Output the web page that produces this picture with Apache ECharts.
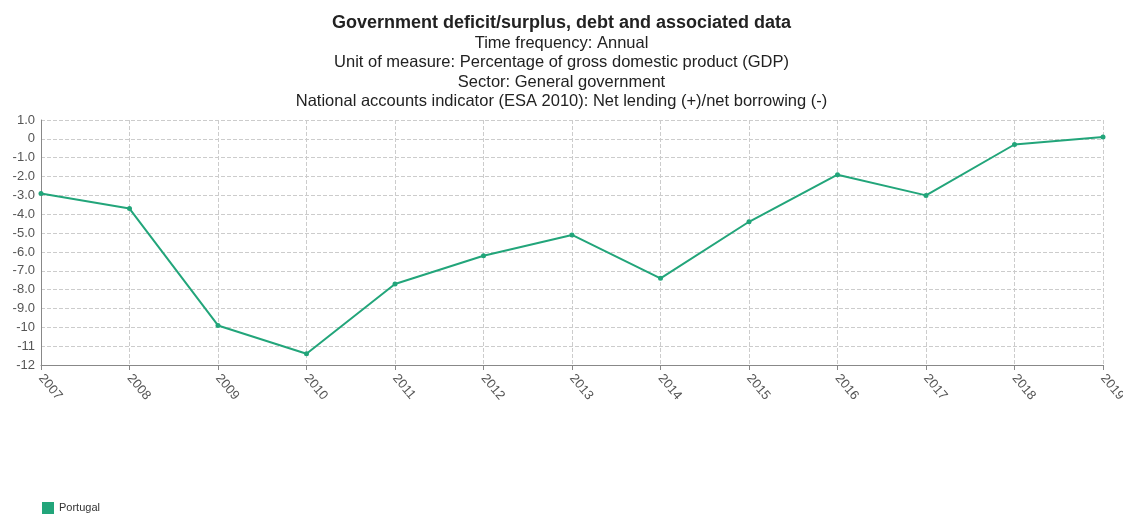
<!DOCTYPE html>
<html><head><meta charset="utf-8">
<script src="https://cdn.jsdelivr.net/npm/echarts@6/dist/echarts.min.js"></script>
<style>html,body{margin:0;padding:0;background:#fff;overflow:hidden}#c{width:1123px;height:515px}</style>
</head><body><div id="c"></div>
<script>
const years = ['2007','2008','2009','2010','2011','2012','2013','2014','2015','2016','2017','2018','2019'];
const portugal = [-2.9,-3.7,-9.9,-11.4,-7.7,-6.2,-5.1,-7.4,-4.4,-1.9,-3.0,-0.3,0.1];
const titleText = 'Government deficit/surplus, debt and associated data';
const subLines = ['Time frequency: Annual','Unit of measure: Percentage of gross domestic product (GDP)','Sector: General government','National accounts indicator (ESA 2010): Net lending (+)/net borrowing (-)'];
const ff = 'Liberation Sans, Arial, sans-serif';
const chart = echarts.init(document.getElementById('c'));
chart.setOption({
  animation:false,
  textStyle:{fontFamily:ff},
  title:{text:titleText, subtext:subLines.join('\n'), left:'center', top:9, itemGap:2,
    textStyle:{fontSize:18,fontWeight:'bold',color:'#222',fontFamily:ff},
    subtextStyle:{fontSize:16.5,color:'#222',lineHeight:19.3,fontFamily:ff}},
  legend:{left:42, bottom:1, padding:0, itemWidth:12, itemHeight:12, icon:'rect', itemGap:6, textStyle:{fontSize:11,color:'#333'}, data:['Portugal']},
  grid:{left:41,right:20,top:120,bottom:150,containLabel:false,outerBoundsMode:'none'},
  xAxis:{type:'category',data:years,boundaryGap:false,
    axisLine:{onZero:false,lineStyle:{color:'#888'}},axisTick:{show:true,length:5,lineStyle:{color:'#888'}},
    axisLabel:{rotate:-50,color:'#555',fontSize:13,margin:11},
    splitLine:{show:true,lineStyle:{type:'dashed',color:'#ccc'}}},
  yAxis:{type:'value',min:-12,max:1,interval:1,
    axisLine:{show:true,lineStyle:{color:'#888'}},axisTick:{show:false},
    axisLabel:{color:'#555',fontSize:13,margin:6,formatter:function(v){if(v===0)return '0';return Math.abs(v)<10?v.toFixed(1):String(v);}},
    splitLine:{show:true,lineStyle:{type:'dashed',color:'#ccc'}}},
  series:[{name:'Portugal',type:'line',data:portugal,symbol:'circle',symbolSize:5,
    lineStyle:{width:2,color:'#22a57a'},itemStyle:{color:'#22a57a'}}]
});
</script></body></html>
